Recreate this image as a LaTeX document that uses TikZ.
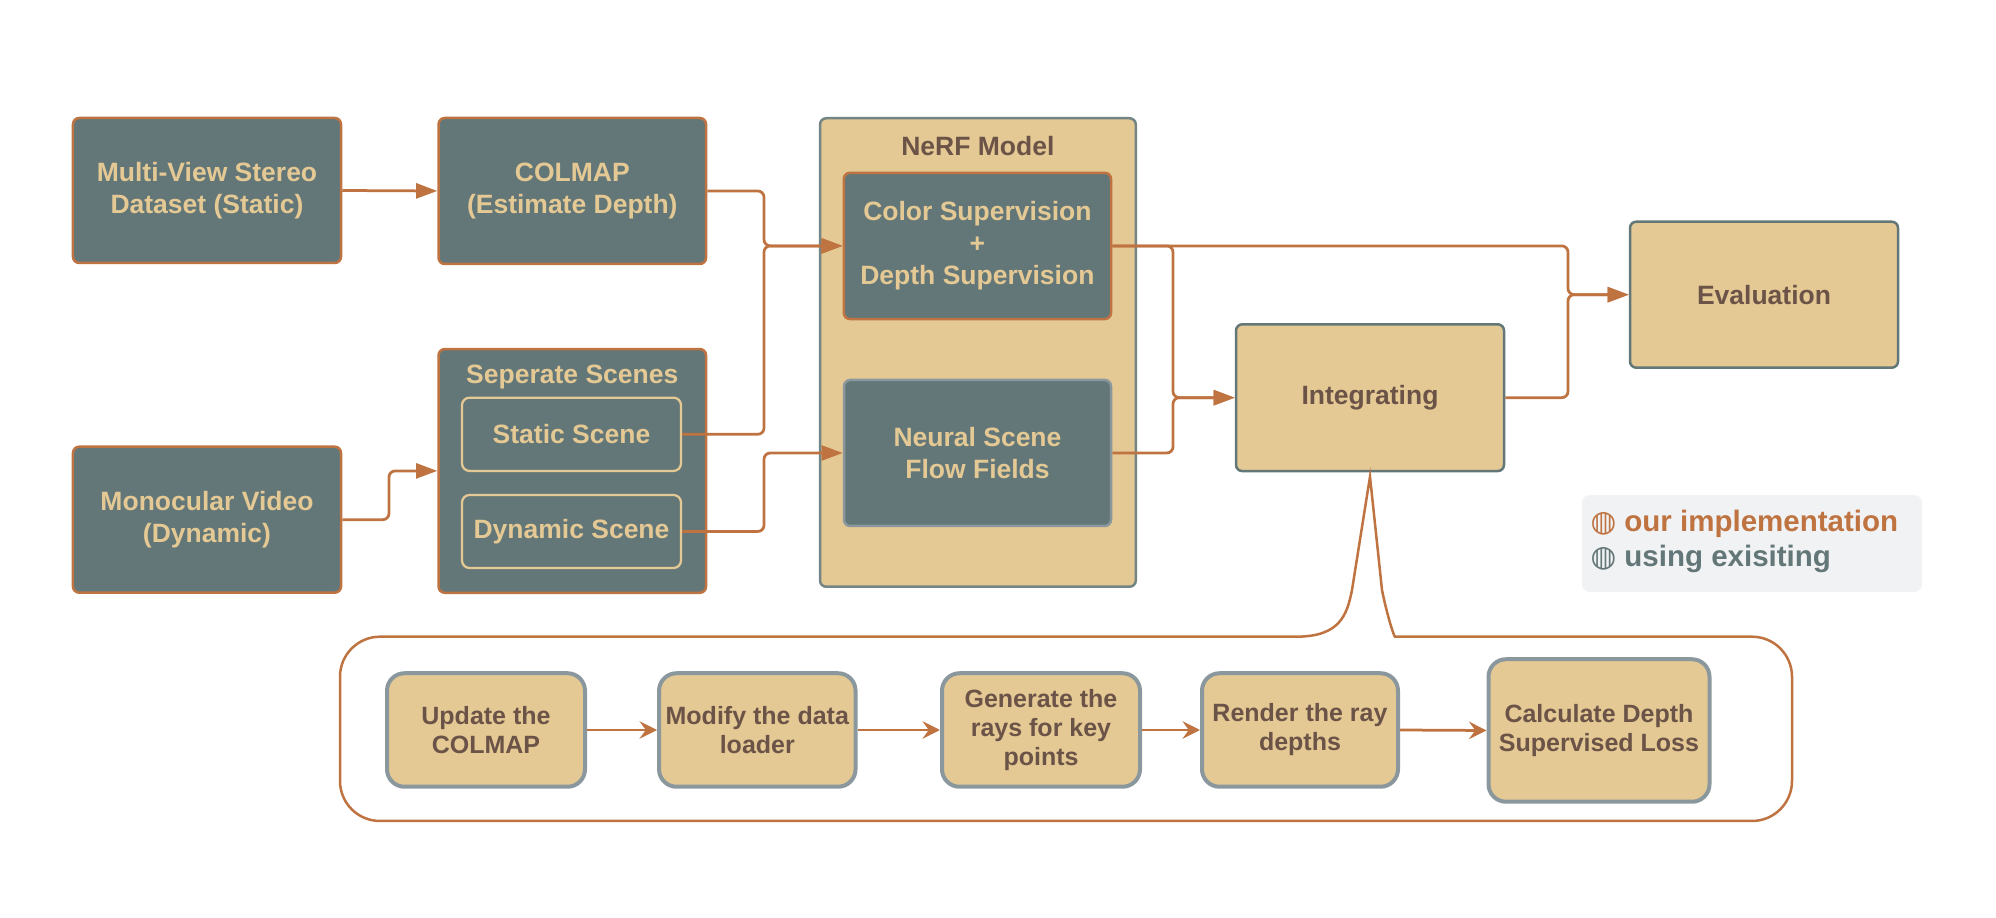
\documentclass[tikz,border=0pt]{standalone}
\usepackage{fontspec}
\setmainfont{Liberation Sans}
\newfontfamily\iconfont{DejaVu Sans}
\usetikzlibrary{arrows.meta}
\definecolor{nslate}{RGB}{100,119,120}
\definecolor{ntan}{RGB}{228,201,148}
\definecolor{nrust}{RGB}{190,115,65}
\definecolor{nbrown}{RGB}{107,83,72}
\definecolor{ngray}{RGB}{138,152,158}
\definecolor{nlegend}{RGB}{241,242,244}
\begin{document}
\begin{tikzpicture}[x=0.4pt,y=0.4pt,yscale=-1,
  darkbox/.style={draw=nrust, fill=nslate, line width=1pt, rounded corners=2.5pt, text=ntan, align=center, inner sep=0pt, font=\bfseries\fontsize{10.6}{12.8}\selectfont},
  tanbox/.style={draw=nslate, fill=ntan, line width=1pt, rounded corners=2.5pt, text=nbrown, align=center, inner sep=0pt, font=\bfseries\fontsize{10.6}{12.8}\selectfont},
  scenebox/.style={draw=ntan, line width=0.9pt, rounded corners=3pt, text=ntan, align=center, inner sep=0pt, font=\bfseries\fontsize{10.6}{12.8}\selectfont},
  stepbox/.style={draw=ngray, fill=ntan, line width=1.6pt, rounded corners=7pt, text=nbrown, align=center, inner sep=0pt, font=\bfseries\fontsize{10}{11.6}\selectfont},
  conn/.style={draw=nrust, line width=1.1pt, rounded corners=2.5pt, -{Triangle[length=8.5pt,width=6pt]}},
  stepconn/.style={draw=nrust, line width=1.1pt, -{Stealth[length=7pt,width=7pt,inset=2.5pt]}},
  legendtext/.style={anchor=base west, inner sep=0pt, font=\bfseries\fontsize{11.8}{14}\selectfont}]
\useasboundingbox (0,0) rectangle (1996,918);
%Shape: Rectangle
\node[darkbox, minimum width=107.2pt, minimum height=58pt] (mvs) at (207,190.5) {Multi-View Stereo\\Dataset (Static)};
%Shape: Rectangle
\node[darkbox, minimum width=107pt, minimum height=58.4pt] (colmap) at (572.3,191) {COLMAP\\(Estimate Depth)};
%Shape: Rectangle
\node[darkbox, minimum width=107.2pt, minimum height=58.4pt] (mono) at (207,519.7) {Monocular Video\\(Dynamic)};
%Shape: Rectangle
\node[darkbox, minimum width=107pt, minimum height=97.5pt] (sep) at (572.3,470.9) {};
\node[text=ntan, font=\bfseries\fontsize{10.6}{12.8}\selectfont] (septitle) at (572.3,377) {Seperate Scenes};
\node[scenebox, minimum width=87.6pt, minimum height=29.3pt] (static) at (571.5,434.3) {Static Scene};
\node[scenebox, minimum width=87.6pt, minimum height=29.2pt] (dynamic) at (571.5,531.5) {Dynamic Scene};
%Shape: Rectangle
\node[tanbox, draw=nslate!90!white, minimum width=126.3pt, minimum height=187.4pt] (nerf) at (977.9,352.5) {};
\node[text=nbrown, font=\bfseries\fontsize{10.6}{12.8}\selectfont] (nerftitle) at (977.9,145.7) {NeRF Model};
\node[darkbox, minimum width=106.9pt, minimum height=58.5pt] (color) at (977.4,245.9) {Color Supervision\\+\\Depth Supervision};
\node[darkbox, draw=ngray, minimum width=106.8pt, minimum height=58.4pt] (nsff) at (977.5,453) {Neural Scene\\Flow Fields};
%Shape: Rectangle
\node[tanbox, minimum width=107.2pt, minimum height=58.7pt] (integ) at (1370,397.7) {Integrating};
%Shape: Rectangle
\node[tanbox, minimum width=107.2pt, minimum height=58.4pt] (eval) at (1764,294.7) {Evaluation};
%Junction columns
\coordinate (ja) at (764,0);
\coordinate (jb) at (389,0);
\coordinate (jc) at (1173,0);
\coordinate (jd) at (1568,0);
%Straight Lines
\draw[conn] (mvs.east) -- (colmap.west);
\draw[conn] (mono.east) -- (mono.east -| jb) |- (sep.west);
\draw[conn] (colmap.east) -- (colmap.east -| ja) |- (color.west);
\draw[conn] (static.east) -- (static.east -| ja) |- (color.west);
\draw[conn] (dynamic.east) -- (dynamic.east -| ja) |- (nsff.west);
\draw[conn] (color.east) -- (color.east -| jd) |- (eval.west);
\draw[conn] (color.east) -- (color.east -| jc) |- (integ.west);
\draw[conn] (nsff.east) -- (nsff.east -| jc) |- (integ.west);
\draw[conn] (integ.east) -- (integ.east -| jd) |- (eval.west);
%Shape: Callout
\draw[nrust, line width=1pt] (1435,636.7) .. controls (1394,636.7) and (1387,615) .. (1382,590) -- (1370,476.7) -- (1352,590) .. controls (1347,615) and (1340,636.7) .. (1296,636.7) [rounded corners=16pt] -- (340,636.7) -- (340,821) -- (1792,821) -- (1792,636.7) -- cycle;
%Shape: Rectangle
\node[stepbox, minimum width=79.2pt, minimum height=45.4pt] (upd) at (486,730) {Update the\\COLMAP};
\node[stepbox, minimum width=78.6pt, minimum height=45.4pt] (mod) at (757.3,730) {Modify the data\\loader};
\node[stepbox, minimum width=79.2pt, minimum height=45.4pt] (gen) at (1041,730) {Generate the\\rays for key\\points};
\node[stepbox, minimum width=78.4pt, minimum height=45.4pt] (rend) at (1300,730) {Render the ray\\depths};
\node[stepbox, minimum width=88.4pt, minimum height=57pt] (calc) at (1599,730.5) {Calculate Depth\\Supervised Loss};
%Straight Lines
\draw[stepconn] (upd.east) -- (mod.west);
\draw[stepconn] (mod.east) -- (gen.west);
\draw[stepconn] (gen.east) -- (rend.west);
\draw[stepconn] (rend.east) -- (calc.west);
%Legend
\node[fill=nlegend, rounded corners=3pt, minimum width=136pt, minimum height=38.7pt, inner sep=0pt] (legend) at (1752,543.5) {};
\node[legendtext, text=nrust] (leg1) at (1590,531.7) {{\iconfont ◍} our implementation};
\node[legendtext, text=nslate] (leg2) at (1590,566.7) {{\iconfont ◍} using exisiting};
\end{tikzpicture}
\end{document}
